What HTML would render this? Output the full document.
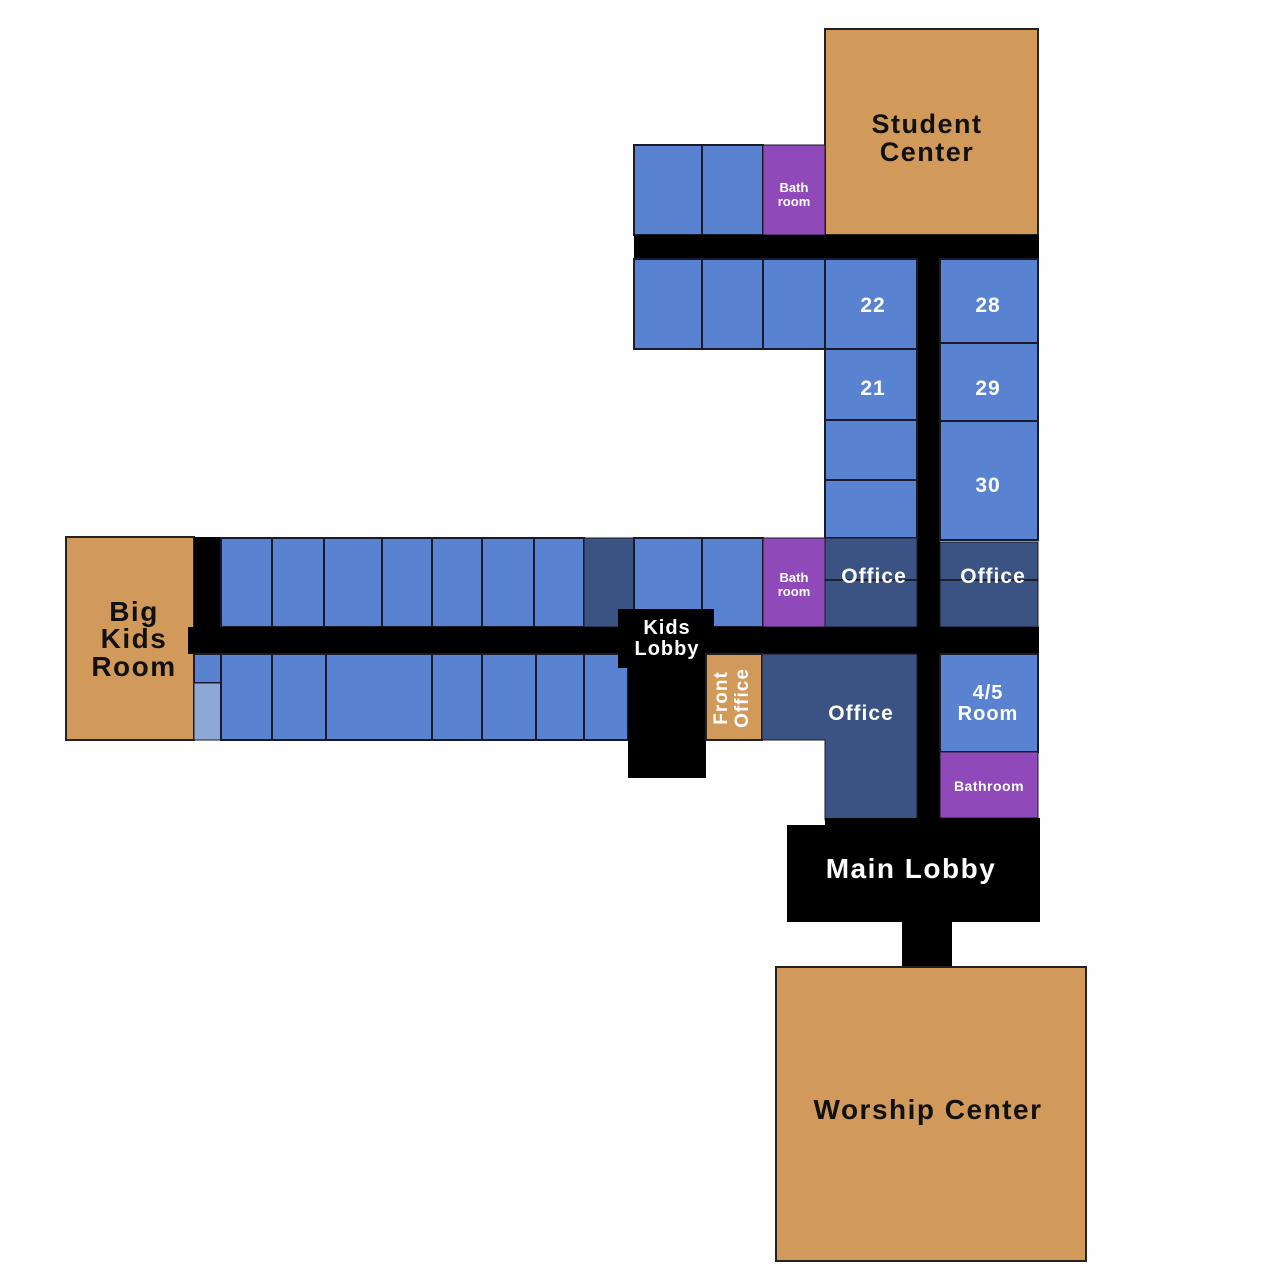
<!DOCTYPE html>
<html><head><meta charset="utf-8"><style>
html,body{margin:0;padding:0;background:#fefefe;}
svg{display:block;}
text{font-family:"Liberation Sans",sans-serif;font-weight:bold;text-anchor:middle;}
.L{letter-spacing:1.5px}
.M{letter-spacing:1px}
.b{fill:#5983d0;stroke:#1a1a2a;stroke-width:2}
.d{fill:#3a5383;stroke:#1a1a2a;stroke-width:1}
.p{fill:#9049b9;stroke:#1a1a2a;stroke-width:1}
.o{fill:#d19a5b;stroke:#222;stroke-width:2}
.k{fill:#000}
.w{fill:#fff}
</style></head><body>
<svg width="1280" height="1280" viewBox="0 0 1280 1280">
<rect class="o" x="825" y="29" width="213" height="206"/>
<text class="L" x="927" y="133" font-size="27" fill="#111">Student</text>
<text class="L" x="927" y="161" font-size="27" fill="#111">Center</text>
<rect class="b" x="634" y="145" width="68" height="90"/>
<rect class="b" x="702" y="145" width="61" height="90"/>
<rect class="p" x="763" y="145" width="62" height="90"/>
<text class="w" x="794" y="192" font-size="13">Bath</text>
<text class="w" x="794" y="206" font-size="13">room</text>
<rect class="k" x="634" y="235" width="405" height="24"/>
<rect class="k" x="917" y="235" width="23" height="590"/>
<rect class="b" x="634" y="259" width="68" height="90"/>
<rect class="b" x="702" y="259" width="61" height="90"/>
<rect class="b" x="763" y="259" width="62" height="90"/>
<rect class="b" x="825" y="259" width="92" height="90"/>
<text class="w M" x="873" y="312" font-size="21">22</text>
<rect class="b" x="940" y="259" width="98" height="84"/>
<text class="w M" x="988" y="312" font-size="21">28</text>
<rect class="b" x="825" y="349" width="92" height="71"/>
<text class="w M" x="873" y="395" font-size="21">21</text>
<rect class="b" x="940" y="343" width="98" height="78"/>
<text class="w M" x="988" y="395" font-size="21">29</text>
<rect class="b" x="825" y="420" width="92" height="60"/>
<rect class="b" x="825" y="480" width="92" height="58"/>
<rect class="b" x="940" y="421" width="98" height="119"/>
<text class="w M" x="988" y="492" font-size="21">30</text>
<rect class="d" x="825" y="538" width="92" height="89"/>
<line x1="825" y1="580" x2="917" y2="580" stroke="#111" stroke-width="1.5"/>
<text class="w M" x="874" y="583" font-size="21">Office</text>
<rect class="d" x="940" y="542" width="98" height="85"/>
<line x1="940" y1="580" x2="1038" y2="580" stroke="#111" stroke-width="1.5"/>
<text class="w M" x="993" y="583" font-size="21">Office</text>
<rect class="o" x="66" y="537" width="128" height="203"/>
<text class="L" x="134" y="621" font-size="28" fill="#111">Big</text>
<text class="L" x="134" y="648" font-size="28" fill="#111">Kids</text>
<text class="L" x="134" y="676" font-size="28" fill="#111">Room</text>
<rect class="k" x="194" y="537" width="27" height="90"/>
<rect class="b" x="221" y="538" width="51" height="89"/>
<rect class="b" x="272" y="538" width="52" height="89"/>
<rect class="b" x="324" y="538" width="58" height="89"/>
<rect class="b" x="382" y="538" width="50" height="89"/>
<rect class="b" x="432" y="538" width="50" height="89"/>
<rect class="b" x="482" y="538" width="52" height="89"/>
<rect class="b" x="534" y="538" width="50" height="89"/>
<rect class="d" x="584" y="538" width="50" height="89"/>
<rect class="b" x="634" y="538" width="68" height="89"/>
<rect class="b" x="702" y="538" width="61" height="89"/>
<rect class="p" x="763" y="538" width="62" height="89"/>
<text class="w" x="794" y="582" font-size="13">Bath</text>
<text class="w" x="794" y="596" font-size="13">room</text>
<rect class="k" x="188" y="627" width="851" height="27"/>
<rect class="b" x="194" y="654" width="27" height="29"/>
<rect x="194" y="683" width="27" height="57" fill="#8ea8d8" stroke="#1a1a2a" stroke-width="1"/>
<rect class="b" x="221" y="654" width="51" height="86"/>
<rect class="b" x="272" y="654" width="54" height="86"/>
<rect class="b" x="326" y="654" width="106" height="86"/>
<rect class="b" x="432" y="654" width="50" height="86"/>
<rect class="b" x="482" y="654" width="54" height="86"/>
<rect class="b" x="536" y="654" width="48" height="86"/>
<rect class="b" x="584" y="654" width="44" height="86"/>
<rect class="k" x="618" y="609" width="96" height="59"/>
<rect class="k" x="628" y="668" width="78" height="110"/>
<text class="w M" x="667" y="634" font-size="20">Kids</text>
<text class="w M" x="667" y="655" font-size="20">Lobby</text>
<rect class="o" x="706" y="654" width="56" height="86" stroke-width="1"/>
<text class="w M" font-size="19" transform="translate(727,698) rotate(-90)">Front</text>
<text class="w M" font-size="19" transform="translate(748,698) rotate(-90)">Office</text>
<path d="M762 654 H917 V820 H825 V740 H762 Z" fill="#3a5383" stroke="#1a1a2a" stroke-width="1"/>
<text class="w M" x="861" y="720" font-size="21">Office</text>
<rect class="b" x="940" y="654" width="98" height="98"/>
<text class="w M" x="988" y="699" font-size="20">4/5</text>
<text class="w M" x="988" y="720" font-size="20">Room</text>
<rect class="p" x="940" y="752" width="98" height="66"/>
<text class="w" x="989" y="791" font-size="14" letter-spacing="0.5">Bathroom</text>
<rect class="k" x="825" y="818" width="215" height="10"/>
<rect class="k" x="787" y="825" width="253" height="97"/>
<text class="w L" x="911" y="878" font-size="28">Main Lobby</text>
<rect class="k" x="902" y="920" width="50" height="48"/>
<rect class="o" x="776" y="967" width="310" height="294"/>
<text class="L" x="928" y="1119" font-size="28" fill="#111">Worship Center</text>
</svg>
</body></html>
